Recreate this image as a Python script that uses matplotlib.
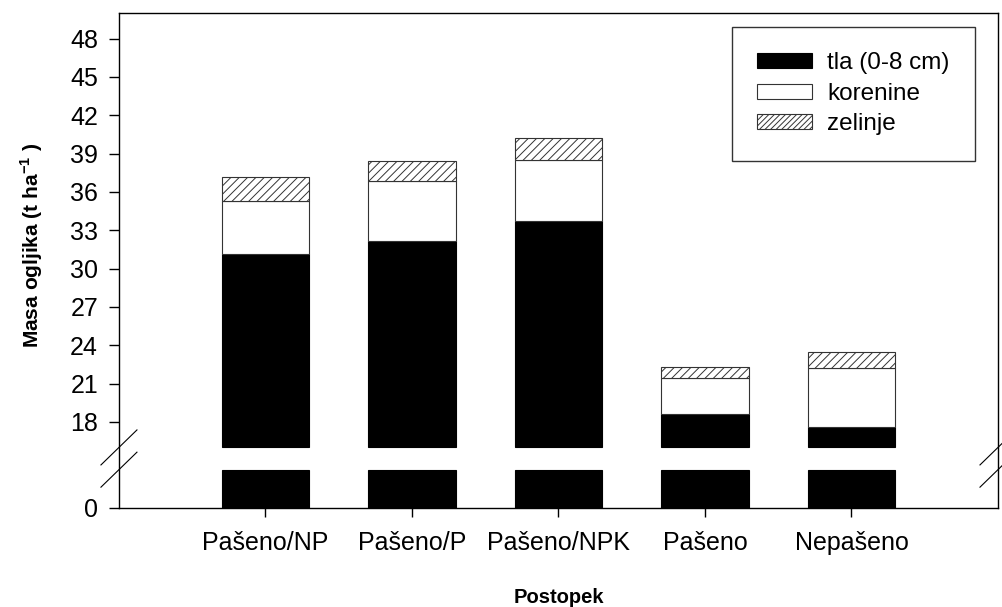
import numpy as np
import matplotlib
matplotlib.use('Agg')
import matplotlib.pyplot as plt
from matplotlib.patches import Patch
from matplotlib.lines import Line2D

categories = ['Pašeno/NP', 'Pašeno/P', 'Pašeno/NPK', 'Pašeno', 'Nepašeno']
tla = [31.16, 32.12, 33.75, 18.65, 17.58]
korenine = [4.15, 4.70, 4.76, 2.76, 4.64]
zelinje = [1.84, 1.56, 1.70, 0.91, 1.22]
series_labels = ['tla (0-8 cm)', 'korenine', 'zelinje']
y_ticks = [0, 18, 21, 24, 27, 30, 33, 36, 39, 42, 45, 48]
low_top, high_bottom = 3, 16
y_max = 50

plt.rcParams['font.family'] = ['Liberation Sans', 'DejaVu Sans']
plt.rcParams['mathtext.fontset'] = 'custom'
plt.rcParams['mathtext.rm'] = 'Liberation Sans'
plt.rcParams['mathtext.bf'] = 'Liberation Sans:bold'
plt.rcParams['hatch.linewidth'] = 0.7
plt.rcParams['hatch.color'] = 'black'

GAP = 1.74


def fwd(v):
    v = np.asarray(v, float)
    return np.where(v <= low_top, v,
                    np.where(v < high_bottom,
                             low_top + (v - low_top) * GAP / (high_bottom - low_top),
                             low_top + GAP + (v - high_bottom)))


def inv(u):
    u = np.asarray(u, float)
    return np.where(u <= low_top, u,
                    np.where(u < low_top + GAP,
                             low_top + (u - low_top) * (high_bottom - low_top) / GAP,
                             high_bottom + (u - low_top - GAP)))


fig = plt.figure(figsize=(10.03, 6.07), dpi=100)
ax = fig.add_axes([0.1186, 0.1631, 0.8764, 0.8155])
ax.set_yscale('function', functions=(fwd, inv))
ax.set_ylim(0, y_max)
ax.set_xlim(0, len(categories) + 1)

x = np.arange(1, len(categories) + 1)
w = 0.6
tla_a = np.array(tla)
kor_a = np.array(korenine)
zel_a = np.array(zelinje)

# lower segment (0 .. low_top)
ax.bar(x, np.minimum(tla_a, low_top), w, bottom=0, color='black', edgecolor='black', lw=0.8)
# upper segment
ax.bar(x, tla_a - high_bottom, w, bottom=high_bottom, color='black', edgecolor='black', lw=0.8)
ax.bar(x, kor_a, w, bottom=tla_a, color='white', edgecolor='#333333', lw=0.8)
ax.bar(x, zel_a, w, bottom=tla_a + kor_a, color='white', edgecolor='#333333', lw=0.8, hatch='////')

ax.set_yticks(y_ticks)
ax.set_yticklabels([str(t) for t in y_ticks])
ax.set_xticks(x)
ax.set_xticklabels(categories)
ax.tick_params(axis='y', direction='out', length=7, width=1, labelsize=18, pad=8, right=False)
ax.tick_params(axis='x', direction='out', length=6.5, width=1, labelsize=18, pad=10, top=False)
ax.yaxis.set_minor_locator(matplotlib.ticker.NullLocator())
for s in ax.spines.values():
    s.set_linewidth(1.0)

ax.set_ylabel(r'Masa ogljika (t ha$^{\mathbf{-1}}$ )', fontweight='bold', fontsize=15)
ax.yaxis.set_label_coords(-0.084, 0.53)
ax.set_xlabel('Postopek', fontweight='bold', fontsize=14.5)
ax.xaxis.set_label_coords(0.5, -0.161)
ax.xaxis.label.set_va('top')

handles = [Patch(facecolor='black', edgecolor='black', lw=0.8),
           Patch(facecolor='white', edgecolor='#333333', lw=0.8),
           Patch(facecolor='white', edgecolor='#333333', lw=0.8, hatch='//////')]
leg = ax.legend(handles, series_labels, loc='upper right', bbox_to_anchor=(0.974, 0.972),
                borderaxespad=0, fontsize=17.5, frameon=True, fancybox=False,
                handlelength=2.26, handleheight=0.58, handletextpad=0.62,
                borderpad=1.05, labelspacing=0.35)
leg.get_frame().set_edgecolor('black')
leg.get_frame().set_linewidth(1.0)

# break marks on both spines
inv_fig = fig.transFigure.inverted()
for xs in (0, 1):
    xd = ax.transAxes.transform((xs, 0))[0]
    for yv in (high_bottom, low_top):
        yd = ax.transData.transform((0, yv))[1]
        p0 = inv_fig.transform((xd - 18, yd - 17.5))
        p1 = inv_fig.transform((xd + 18, yd + 17.5))
        fig.add_artist(Line2D([p0[0], p1[0]], [p0[1], p1[1]], transform=fig.transFigure,
                              color='black', lw=0.8))

fig.savefig('out.png', dpi=100)
